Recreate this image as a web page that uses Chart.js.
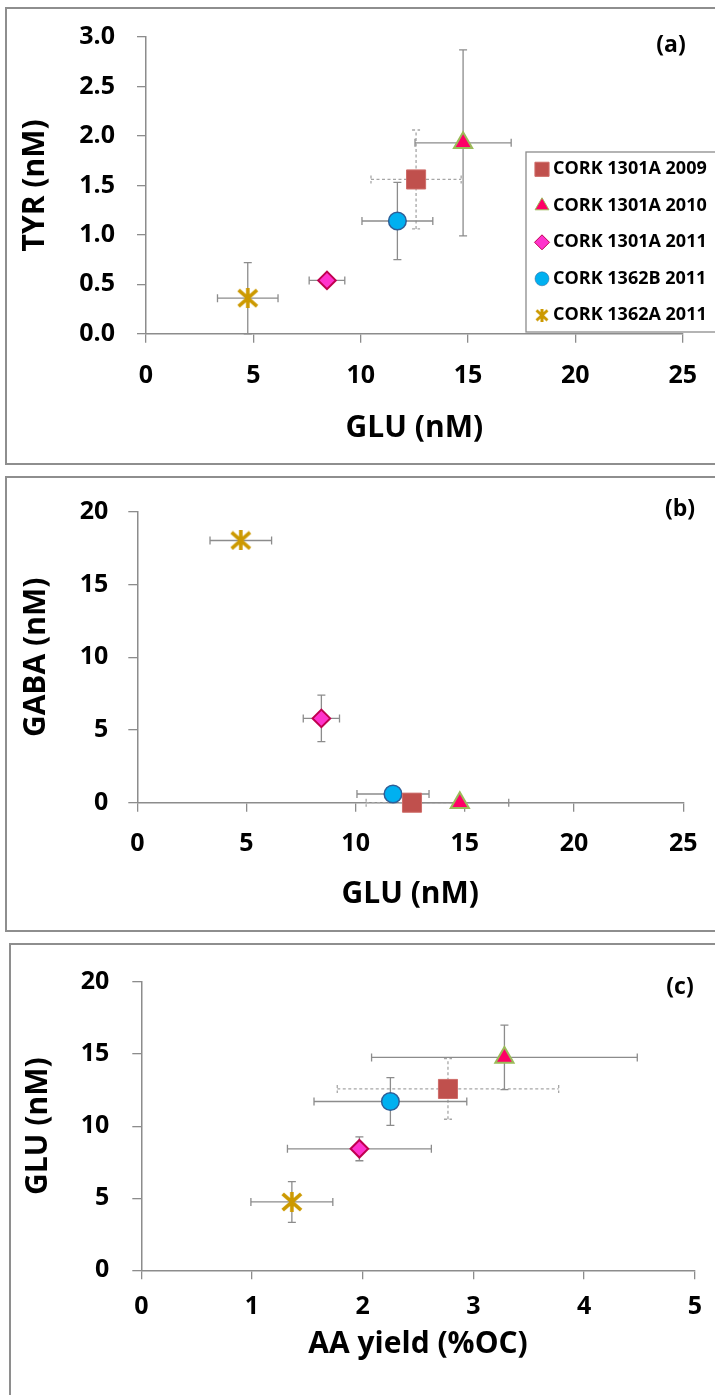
<!DOCTYPE html>
<html>
<head>
<meta charset="utf-8">
<script src="https://cdn.jsdelivr.net/npm/chart.js@4.4.0/dist/chart.umd.min.js"></script>
<style>
  html, body { margin: 0; padding: 0; background: #fff; }
  body { width: 715px; height: 1395px; position: relative; overflow: hidden; }
  .frame { position: absolute; border: 2px solid #8e8e8e; box-sizing: border-box; }
  canvas { position: absolute; left: 0; }
</style>
</head>
<body>
<div class="frame" style="left:5px;top:7px;width:720px;height:458px"></div>
<div class="frame" style="left:5px;top:476px;width:720px;height:456px"></div>
<div class="frame" style="left:9px;top:943px;width:720px;height:470px"></div>

<canvas id="chartA" width="715" height="464" style="top:0px"></canvas>
<canvas id="chartB" width="715" height="454" style="top:477px"></canvas>
<canvas id="chartC" width="715" height="451" style="top:944px"></canvas>

<script>
// ---- data ----
const series = ['CORK 1301A 2009', 'CORK 1301A 2010', 'CORK 1301A 2011', 'CORK 1362B 2011', 'CORK 1362A 2011'];

const gluMean = [12.58, 14.77, 8.43, 11.71, 4.74];   // GLU (nM)
const gluErr = [2.1, 2.24, 0.83, 1.65, 1.41];
const tyrMean = [1.56, 1.93, 0.54, 1.14, 0.36];     // TYR (nM)
const tyrErr = [0.5, 0.94, 0, 0.39, 0.36];
const gabaMean = [0, 0, 5.8, 0.6, 18.04];            // GABA (nM)
const gabaErr = [0, 0, 1.6, 0, 0];
const aaYield = [2.77, 3.28, 1.97, 2.25, 1.36];      // AA yield (%OC)
const aaYieldErr = [1.0, 1.2, 0.65, 0.69, 0.37];

const gluTicks = [0, 5, 10, 15, 20, 25];
const tyrTicks = [0, 0.5, 1.0, 1.5, 2.0, 2.5, 3.0];
const gabaTicks = [0, 5, 10, 15, 20];
const gluYTicks = [0, 5, 10, 15, 20];
const aaTicks = [0, 1, 2, 3, 4, 5];

// ---- styles ----
const AXIS = '#8c8c8c';
const FONT = '"Open Sans", Lato, sans-serif';
Chart.defaults.font.family = FONT;
Chart.defaults.color = '#000';

function makeStar(w, h, lw, color) {
  const c = document.createElement('canvas');
  c.width = w; c.height = h;
  const g = c.getContext('2d');
  g.strokeStyle = color;
  g.lineWidth = lw;
  g.beginPath();
  g.moveTo(lw / 2, lw / 2); g.lineTo(w - lw / 2, h - lw / 2);
  g.moveTo(w - lw / 2, lw / 2); g.lineTo(lw / 2, h - lw / 2);
  g.moveTo(w / 2, 0); g.lineTo(w / 2, h);
  g.stroke();
  return c;
}

const markers = [
  { style: 'rect', r: 13.5, bg: '#C0504D', bd: '#CF6C69', bw: 1, legendR: 10, legendBw: 1, dashed: true },
  { style: 'triangle', r: 10.5, bg: '#FF0066', bd: '#9BBB59', bw: 2, legendR: 8, legendBw: 1 },
  { style: 'rectRot', r: 8.8, bg: '#FF33CC', bd: '#C0004F', bw: 2, legendR: 7.5, legendBw: 1 },
  { style: 'circle', r: 8.8, bg: '#00B0F0', bd: '#2E5E97', bw: 1.5, legendR: 7, legendBw: 0.5 },
  { style: makeStar(22, 20, 3.6, '#CC9900'), r: 11, bg: '#CC9900', bd: '#CC9900', bw: 0,
    legendStyle: makeStar(14, 13, 3, '#CC9900'), legendR: 7, legendBw: 0 }
];

function buildDatasets(xs, xErr, ys, yErr) {
  return series.map((name, i) => ({
    label: name,
    data: [{ x: xs[i], y: ys[i] }],
    xErr: xErr[i],
    yErr: yErr[i],
    dashed: !!markers[i].dashed,
    pointStyle: markers[i].style,
    pointRadius: markers[i].r,
    backgroundColor: markers[i].bg,
    borderColor: markers[i].bd,
    borderWidth: markers[i].bw,
    clip: false
  }));
}

// error bars drawn under the markers
const errorBars = {
  id: 'errorBars',
  beforeDatasetsDraw(chart) {
    const ctx = chart.ctx, sx = chart.scales.x, sy = chart.scales.y;
    const cap = 4;
    chart.data.datasets.forEach(ds => {
      const p = ds.data[0];
      const px = sx.getPixelForValue(p.x), py = sy.getPixelForValue(p.y);
      ctx.save();
      ctx.strokeStyle = ds.dashed ? '#a6a6a6' : AXIS;
      ctx.lineWidth = 1.3;
      ctx.setLineDash(ds.dashed ? [3, 2.5] : []);
      ctx.beginPath();
      if (ds.xErr) {
        const a = sx.getPixelForValue(p.x - ds.xErr), b = sx.getPixelForValue(p.x + ds.xErr);
        ctx.moveTo(a, py); ctx.lineTo(b, py);
        ctx.moveTo(a, py - cap); ctx.lineTo(a, py + cap);
        ctx.moveTo(b, py - cap); ctx.lineTo(b, py + cap);
      }
      if (ds.yErr) {
        const a = sy.getPixelForValue(p.y - ds.yErr), b = sy.getPixelForValue(p.y + ds.yErr);
        ctx.moveTo(px, a); ctx.lineTo(px, b);
        ctx.moveTo(px - cap, a); ctx.lineTo(px + cap, a);
        ctx.moveTo(px - cap, b); ctx.lineTo(px + cap, b);
      }
      ctx.stroke();
      ctx.restore();
    });
  }
};

// (a) (b) (c) tags
const panelTag = {
  id: 'panelTag',
  afterDraw(chart, args, opts) {
    if (!opts.text) return;
    const ctx = chart.ctx;
    ctx.save();
    ctx.font = 'bold 23px ' + FONT;
    ctx.fillStyle = '#000';
    ctx.textAlign = 'center';
    ctx.textBaseline = 'middle';
    ctx.fillText(opts.text, opts.x, opts.y);
    ctx.restore();
  }
};

// boxed legend inside panel (a)
const boxLegend = {
  id: 'boxLegend',
  afterDraw(chart, args, opts) {
    if (!opts.show) return;
    const ctx = chart.ctx;
    ctx.save();
    ctx.strokeStyle = AXIS;
    ctx.lineWidth = 1.3;
    ctx.strokeRect(opts.left, opts.top, opts.width, opts.height);
    ctx.font = 'bold 18px ' + FONT;
    ctx.textBaseline = 'middle';
    chart.data.datasets.forEach((ds, i) => {
      const m = markers[i];
      const y = opts.firstRow + i * opts.rowGap;
      ctx.fillStyle = m.bg;
      ctx.strokeStyle = m.bd;
      ctx.lineWidth = m.legendBw;
      Chart.helpers.drawPoint(ctx, {
        pointStyle: m.legendStyle || m.style, radius: m.legendR, borderWidth: m.legendBw, rotation: 0
      }, opts.markerX, y);
      ctx.fillStyle = '#000';
      ctx.fillText(ds.label, opts.textX, y);
    });
    ctx.restore();
  }
};

function axis(opts) {
  return {
    type: 'linear',
    min: opts.ticks[0],
    max: opts.ticks[opts.ticks.length - 1],
    afterBuildTicks: s => { s.ticks = opts.ticks.map(v => ({ value: v })); },
    afterFit: s => { if (opts.width) s.width = opts.width; if (opts.height) s.height = opts.height; },
    grid: { display: true, drawOnChartArea: false, drawTicks: true, tickLength: 9, color: AXIS, lineWidth: 1.3 },
    border: { display: true, color: AXIS, width: 1.5 },
    ticks: {
      autoSkip: false, maxRotation: 0, minRotation: 0,
      padding: opts.tickPad,
      color: '#000',
      font: { size: 25, weight: 'bold' },
      callback: opts.fmt || (v => String(v))
    },
    title: {
      display: true, text: opts.title, color: '#000',
      font: { size: 30, weight: 'bold' },
      padding: opts.titlePad
    }
  };
}

function makeChart(id, cfg) {
  return new Chart(document.getElementById(id), {
    type: 'scatter',
    data: { datasets: buildDatasets(cfg.xs, cfg.xErr, cfg.ys, cfg.yErr) },
    options: {
      responsive: false,
      animation: false,
      events: [],
      layout: { padding: cfg.padding },
      scales: { x: cfg.xAxis, y: cfg.yAxis },
      plugins: {
        legend: { display: false },
        tooltip: { enabled: false },
        panelTag: cfg.tag,
        boxLegend: cfg.legend || { show: false }
      }
    },
    plugins: [errorBars, panelTag, boxLegend]
  });
}

// (a) TYR vs GLU
makeChart('chartA', {
  xs: gluMean, xErr: gluErr, ys: tyrMean, yErr: tyrErr,
  padding: { left: 0, top: 36.7, right: 28, bottom: 0 },
  xAxis: axis({ ticks: gluTicks, height: 130.2, tickPad: 18, title: 'GLU (nM)', titlePad: { top: 0, bottom: 18 } }),
  yAxis: axis({ ticks: tyrTicks, width: 146, tickPad: 22, title: 'TYR (nM)', titlePad: { top: 17, bottom: 0 },
    fmt: v => v.toFixed(1) }),
  tag: { text: '(a)', x: 671, y: 45 },
  legend: { show: true, left: 526, top: 152, width: 200, height: 180,
    firstRow: 169.3, rowGap: 36.5, markerX: 542, textX: 553 }
});

// (b) GABA vs GLU
makeChart('chartB', {
  xs: gluMean, xErr: gluErr, ys: gabaMean, yErr: gabaErr,
  padding: { left: 0, top: 28.3, right: 28, bottom: 0 },
  xAxis: axis({ ticks: gluTicks, height: 128.3, tickPad: 17.5, title: 'GLU (nM)', titlePad: { top: 0, bottom: 18.5 } }),
  yAxis: axis({ ticks: gabaTicks, width: 137.3, tickPad: 20, title: 'GABA (nM)', titlePad: { top: 18, bottom: 0 } }),
  tag: { text: '(b)', x: 680, y: 32 }
});

// (c) GLU vs AA yield
makeChart('chartC', {
  xs: aaYield, xErr: aaYieldErr, ys: gluMean, yErr: gluErr,
  padding: { left: 0, top: 28.7, right: 16.7, bottom: 0 },
  xAxis: axis({ ticks: aaTicks, height: 124.7, tickPad: 13, title: 'AA yield (%OC)', titlePad: { top: 0, bottom: 32.5 } }),
  yAxis: axis({ ticks: gluYTicks, width: 141.3, tickPad: 23, title: 'GLU (nM)', titlePad: { top: 20, bottom: 0 } }),
  tag: { text: '(c)', x: 680, y: 43 }
});
</script>
</body>
</html>
